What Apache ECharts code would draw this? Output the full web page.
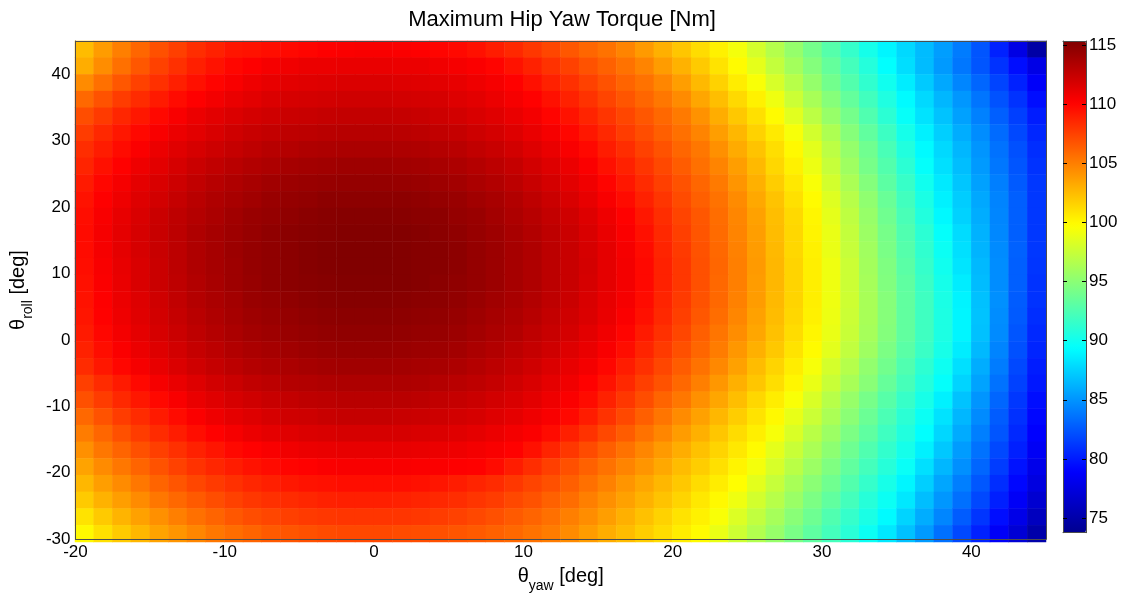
<!DOCTYPE html>
<html><head><meta charset="utf-8">
<script src="https://cdn.jsdelivr.net/npm/echarts@6/dist/echarts.min.js"></script>
<style>html,body{margin:0;padding:0;background:#fff}#c{width:1124px;height:598px}</style>
</head><body><div id="c"></div>
<script>
// yaw cell centres (deg), left to right, 1.25-deg cells over -20..45
const yawCenters = [-19.375,-18.125,-16.875,-15.625,-14.375,-13.125,-11.875,-10.625,-9.375,-8.125,-6.875,-5.625,-4.375,-3.125,-1.875,-0.625,
  0.625,1.875,3.125,4.375,5.625,6.875,8.125,9.375,10.625,11.875,13.125,14.375,15.625,16.875,18.125,19.375,20.625,21.875,23.125,24.375,
  25.625,26.875,28.125,29.375,30.625,31.875,33.125,34.375,35.625,36.875,38.125,39.375,40.625,41.875,43.125,44.375];
// roll cell centres (deg), top to bottom, 2.5-deg cells over 45..-30
const rollCenters = [43.75,41.25,38.75,36.25,33.75,31.25,28.75,26.25,23.75,21.25,18.75,16.25,13.75,11.25,8.75,6.25,3.75,1.25,-1.25,-3.75,-6.25,-8.75,-11.25,-13.75,-16.25,-18.75,-21.25,-23.75,-26.25,-28.75];
// maximum hip yaw torque [Nm], one row per roll centre (top to bottom), one value per yaw centre
const torque = [
[102.5,103.8,105.0,106.0,106.9,107.6,108.3,108.8,109.3,109.4,109.6,109.8,110.0,110.2,110.3,110.4,110.4,110.3,110.2,110.0,109.8,109.5,109.0,108.5,107.9,107.3,106.6,106.0,105.5,104.8,103.9,103.0,102.1,101.2,100.3,99.3,98.0,96.7,95.4,94.1,92.8,91.5,90.2,89.0,87.8,86.6,85.4,84.0,82.4,80.3,77.7,74.8],
[103.1,104.4,105.6,106.6,107.5,108.2,108.9,109.4,109.9,110.2,110.5,110.7,110.9,110.9,111.0,111.0,111.0,110.9,110.9,110.7,110.5,110.3,110.0,109.4,108.8,108.1,107.5,106.8,106.2,105.5,104.8,103.8,102.9,101.9,100.9,99.9,98.7,97.3,96.0,94.7,93.4,92.1,90.8,89.4,88.0,86.6,85.2,83.8,82.4,81.0,79.5,77.8],
[104.5,105.6,106.6,107.5,108.2,108.9,109.5,110.0,110.4,110.8,111.1,111.3,111.4,111.5,111.6,111.6,111.6,111.5,111.4,111.3,111.1,110.8,110.5,110.1,109.5,108.8,108.2,107.5,106.8,106.1,105.5,104.7,103.7,102.6,101.6,100.5,99.5,98.1,96.8,95.4,94.0,92.7,91.3,90.0,88.6,87.2,85.8,84.4,83.1,81.7,80.3,78.7],
[105.9,106.8,107.7,108.4,109.1,109.7,110.2,110.6,111.0,111.3,111.6,111.8,111.9,112.0,112.1,112.1,112.1,112.0,111.9,111.8,111.5,111.3,110.9,110.5,110.1,109.5,108.8,108.1,107.4,106.7,106.0,105.3,104.5,103.4,102.4,101.3,100.3,99.1,97.6,96.2,94.8,93.4,92.0,90.6,89.2,87.8,86.4,85.1,83.7,82.3,81.0,79.5],
[107.0,107.8,108.6,109.2,109.8,110.4,110.9,111.3,111.6,111.9,112.1,112.3,112.4,112.5,112.6,112.6,112.6,112.5,112.4,112.2,112.0,111.7,111.4,111.0,110.6,110.0,109.4,108.7,108.0,107.3,106.6,105.9,105.2,104.2,103.1,102.0,101.0,99.9,98.5,97.0,95.5,94.1,92.6,91.1,89.6,88.2,86.9,85.5,84.2,82.8,81.5,80.1],
[107.7,108.5,109.2,109.8,110.4,110.9,111.3,111.7,112.1,112.4,112.6,112.8,112.9,113.0,113.1,113.1,113.1,113.0,112.9,112.7,112.5,112.2,111.9,111.5,111.0,110.5,109.9,109.2,108.5,107.7,107.0,106.3,105.6,104.8,103.7,102.7,101.6,100.6,99.4,97.9,96.4,94.8,93.3,91.8,90.2,88.8,87.4,86.0,84.7,83.3,81.9,80.5],
[108.3,109.0,109.7,110.3,110.9,111.4,111.8,112.2,112.5,112.8,113.1,113.2,113.4,113.5,113.6,113.6,113.6,113.5,113.4,113.2,113.0,112.7,112.4,112.0,111.5,111.0,110.4,109.8,109.0,108.3,107.5,106.8,106.0,105.3,104.3,103.2,102.2,101.1,100.0,98.6,97.0,95.4,93.9,92.3,90.7,89.2,87.8,86.4,85.0,83.6,82.2,80.8],
[108.7,109.5,110.1,110.8,111.3,111.8,112.3,112.7,113.0,113.3,113.5,113.8,113.9,114.0,114.1,114.1,114.1,114.0,113.9,113.7,113.5,113.2,112.9,112.5,112.0,111.5,110.9,110.3,109.5,108.8,108.0,107.2,106.4,105.6,104.8,103.7,102.6,101.4,100.3,99.0,97.4,95.8,94.2,92.7,91.1,89.5,88.1,86.7,85.2,83.8,82.4,81.0],
[109.1,109.9,110.5,111.2,111.7,112.2,112.7,113.1,113.4,113.7,114.0,114.2,114.3,114.4,114.5,114.5,114.5,114.4,114.3,114.1,113.9,113.6,113.3,112.9,112.4,111.9,111.3,110.7,110.0,109.2,108.4,107.6,106.8,106.0,105.2,104.1,103.0,101.8,100.7,99.5,97.9,96.3,94.7,93.1,91.6,90.0,88.5,87.0,85.5,84.1,82.6,81.2],
[109.4,110.2,110.8,111.5,112.0,112.5,113.0,113.4,113.7,114.0,114.3,114.5,114.6,114.8,114.8,114.8,114.8,114.8,114.7,114.5,114.3,114.0,113.7,113.3,112.8,112.3,111.7,111.1,110.4,109.7,108.8,108.0,107.1,106.3,105.5,104.5,103.3,102.2,101.0,99.9,98.4,96.8,95.2,93.6,92.0,90.4,88.8,87.3,85.8,84.3,82.8,81.2],
[109.6,110.4,111.1,111.7,112.3,112.8,113.2,113.6,114.0,114.3,114.5,114.7,114.9,115.0,115.1,115.1,115.1,115.0,114.9,114.8,114.5,114.3,113.9,113.5,113.1,112.6,112.1,111.5,110.8,110.1,109.2,108.3,107.4,106.6,105.7,104.7,103.6,102.4,101.3,100.1,98.7,97.1,95.5,93.9,92.3,90.7,89.1,87.5,86.0,84.4,82.8,81.2],
[109.7,110.5,111.2,111.8,112.4,112.9,113.4,113.8,114.1,114.4,114.7,114.9,115.0,115.1,115.2,115.2,115.2,115.2,115.1,114.9,114.7,114.4,114.1,113.7,113.3,112.8,112.3,111.7,111.0,110.3,109.5,108.5,107.6,106.7,105.8,104.8,103.7,102.5,101.4,100.2,98.9,97.3,95.7,94.2,92.6,91.1,89.5,87.9,86.2,84.5,82.8,81.2],
[109.7,110.5,111.2,111.8,112.4,112.9,113.4,113.8,114.2,114.5,114.7,114.9,115.1,115.2,115.3,115.3,115.3,115.2,115.1,115.0,114.8,114.5,114.2,113.8,113.4,112.9,112.4,111.8,111.2,110.5,109.7,108.7,107.8,106.8,105.9,104.9,103.8,102.6,101.4,100.3,98.9,97.4,95.9,94.3,92.8,91.3,89.8,88.1,86.3,84.6,82.9,81.2],
[109.6,110.4,111.1,111.7,112.3,112.9,113.4,113.8,114.1,114.5,114.7,114.9,115.1,115.2,115.3,115.3,115.3,115.2,115.1,115.0,114.8,114.5,114.2,113.8,113.4,112.9,112.4,111.9,111.2,110.6,109.8,108.8,107.9,106.9,106.0,105.0,103.9,102.7,101.5,100.4,99.1,97.6,96.0,94.5,93.0,91.5,90.0,88.3,86.5,84.7,82.8,81.1],
[109.5,110.3,111.0,111.7,112.3,112.8,113.3,113.7,114.1,114.4,114.7,114.9,115.0,115.1,115.2,115.2,115.2,115.2,115.1,114.9,114.7,114.5,114.2,113.8,113.4,112.9,112.4,111.8,111.2,110.6,109.8,108.8,107.9,106.9,105.9,105.0,103.8,102.7,101.5,100.4,99.1,97.6,96.1,94.6,93.2,91.7,90.2,88.6,86.6,84.7,82.8,81.0],
[109.4,110.2,110.9,111.5,112.1,112.7,113.2,113.6,113.9,114.3,114.5,114.7,114.9,115.0,115.1,115.1,115.1,115.0,114.9,114.8,114.6,114.3,114.0,113.7,113.3,112.8,112.3,111.7,111.1,110.5,109.7,108.7,107.8,106.8,105.9,104.9,103.8,102.6,101.5,100.4,99.1,97.7,96.2,94.8,93.3,91.9,90.4,88.9,86.8,84.8,82.7,81.0],
[109.3,110.1,110.8,111.4,112.0,112.5,113.0,113.4,113.8,114.1,114.3,114.5,114.7,114.8,114.9,114.9,114.9,114.8,114.7,114.6,114.4,114.1,113.8,113.5,113.1,112.6,112.1,111.6,111.0,110.3,109.5,108.5,107.6,106.6,105.7,104.7,103.6,102.5,101.4,100.3,99.0,97.6,96.2,94.8,93.3,91.9,90.5,89.0,86.9,84.7,82.6,80.8],
[109.1,109.9,110.6,111.2,111.8,112.3,112.8,113.2,113.6,113.9,114.1,114.3,114.5,114.6,114.7,114.7,114.7,114.6,114.5,114.4,114.2,113.9,113.6,113.3,112.8,112.4,111.9,111.3,110.7,110.0,109.1,108.2,107.3,106.3,105.4,104.4,103.4,102.3,101.2,100.1,98.9,97.5,96.1,94.7,93.3,91.9,90.5,89.0,86.8,84.6,82.4,80.6],
[108.8,109.6,110.3,110.9,111.5,112.0,112.5,112.9,113.3,113.6,113.8,114.0,114.2,114.3,114.4,114.4,114.4,114.3,114.2,114.1,113.9,113.6,113.3,112.9,112.5,112.1,111.5,111.0,110.4,109.6,108.7,107.8,106.9,106.0,105.1,104.0,103.0,102.0,100.9,99.9,98.6,97.2,95.8,94.4,93.0,91.7,90.3,88.6,86.5,84.3,82.2,80.4],
[108.4,109.2,109.9,110.5,111.1,111.6,112.1,112.5,112.9,113.2,113.4,113.6,113.8,113.9,114.0,114.0,114.0,113.9,113.8,113.7,113.5,113.2,112.9,112.5,112.1,111.6,111.1,110.6,109.9,109.0,108.2,107.3,106.4,105.5,104.6,103.6,102.5,101.5,100.5,99.4,98.0,96.7,95.3,94.0,92.6,91.2,89.9,88.1,86.0,84.0,81.9,80.1],
[107.6,108.4,109.1,109.8,110.5,111.0,111.5,112.0,112.3,112.7,112.9,113.2,113.3,113.4,113.5,113.5,113.5,113.5,113.4,113.2,113.0,112.8,112.5,112.1,111.7,111.2,110.7,110.1,109.4,108.5,107.6,106.8,105.9,105.0,104.0,103.0,102.1,101.1,100.1,98.9,97.5,96.2,94.9,93.5,92.2,90.8,89.5,87.6,85.6,83.6,81.6,79.9],
[106.9,107.7,108.5,109.2,109.8,110.4,111.0,111.4,111.8,112.1,112.4,112.6,112.8,112.9,113.0,113.0,113.0,113.0,112.9,112.7,112.5,112.3,112.0,111.7,111.3,110.8,110.3,109.7,108.8,107.9,107.0,106.1,105.3,104.3,103.4,102.4,101.4,100.5,99.5,98.2,96.8,95.5,94.2,92.9,91.6,90.3,88.8,86.9,85.0,83.1,81.2,79.5],
[105.9,106.8,107.7,108.4,109.1,109.7,110.3,110.8,111.2,111.5,111.8,112.1,112.2,112.4,112.5,112.5,112.5,112.4,112.3,112.2,112.0,111.8,111.5,111.2,110.8,110.4,109.8,109.0,108.1,107.2,106.3,105.4,104.5,103.6,102.7,101.8,100.9,100.0,98.8,97.6,96.3,95.0,93.7,92.4,91.1,89.8,88.2,86.4,84.6,82.7,80.9,79.2],
[105.1,106.0,106.9,107.7,108.4,109.0,109.6,110.1,110.5,110.9,111.2,111.4,111.6,111.7,111.8,111.8,111.8,111.8,111.7,111.6,111.4,111.2,110.9,110.6,110.3,109.7,108.9,108.1,107.2,106.4,105.5,104.7,103.8,103.0,102.1,101.2,100.4,99.4,98.2,96.9,95.7,94.4,93.2,91.9,90.7,89.4,87.7,85.9,84.1,82.4,80.6,78.9],
[104.3,105.3,106.1,106.9,107.6,108.2,108.8,109.3,109.8,110.1,110.4,110.7,110.9,111.0,111.1,111.1,111.1,111.1,111.0,110.9,110.8,110.6,110.4,110.1,109.5,108.7,107.9,107.1,106.3,105.5,104.7,103.9,103.1,102.3,101.5,100.7,99.9,98.7,97.5,96.3,95.1,93.8,92.6,91.4,90.2,88.8,87.1,85.3,83.6,81.9,80.2,78.5],
[103.5,104.5,105.3,106.1,106.8,107.5,108.1,108.6,109.0,109.4,109.7,110.0,110.1,110.3,110.4,110.4,110.4,110.4,110.3,110.3,110.2,110.1,109.7,109.0,108.3,107.6,106.9,106.2,105.5,104.8,104.1,103.3,102.5,101.8,101.0,100.2,99.3,98.1,96.9,95.7,94.5,93.3,92.1,90.9,89.7,88.1,86.4,84.8,83.1,81.4,79.7,78.0],
[102.7,103.7,104.5,105.3,106.1,106.7,107.3,107.8,108.2,108.6,108.9,109.2,109.4,109.5,109.6,109.6,109.6,109.6,109.5,109.3,109.0,108.7,108.4,107.9,107.4,106.9,106.3,105.6,104.9,104.1,103.4,102.7,102.0,101.2,100.5,99.8,98.6,97.4,96.2,95.0,93.9,92.7,91.5,90.3,89.0,87.4,85.7,84.1,82.5,80.8,79.2,77.5],
[101.9,102.9,103.7,104.5,105.3,105.9,106.5,107.0,107.5,107.9,108.2,108.4,108.6,108.8,108.9,108.9,108.9,108.8,108.7,108.5,108.3,108.0,107.7,107.2,106.8,106.2,105.7,105.0,104.3,103.6,102.9,102.2,101.5,100.7,100.0,99.1,97.9,96.8,95.6,94.4,93.3,92.1,90.9,89.8,88.4,86.7,85.1,83.5,81.9,80.2,78.6,76.8],
[100.9,101.9,102.8,103.6,104.3,105.0,105.6,106.1,106.6,107.0,107.3,107.6,107.8,107.9,108.0,108.0,108.0,108.0,107.9,107.7,107.5,107.2,106.9,106.5,106.1,105.6,105.0,104.4,103.7,103.0,102.3,101.6,100.9,100.3,99.5,98.3,97.2,96.1,94.9,93.8,92.6,91.5,90.4,89.2,87.6,86.0,84.4,82.7,81.1,79.5,77.9,76.0],
[100.0,101.0,101.9,102.7,103.5,104.1,104.7,105.3,105.7,106.1,106.5,106.7,106.9,107.1,107.2,107.2,107.2,107.1,107.0,106.9,106.7,106.5,106.2,105.9,105.5,105.1,104.5,103.8,103.1,102.5,101.8,101.2,100.5,99.9,98.9,97.7,96.6,95.5,94.3,93.2,92.1,91.0,89.8,88.4,86.8,85.2,83.5,81.9,80.3,78.6,77.0,75.0]
];
const yawTicks = [-20,-10,0,10,20,30,40];
const rollTicks = [-30,-20,-10,0,10,20,30,40];
const cbTicks = [75,80,85,90,95,100,105,110,115];
const cbMin = 73.76, cbMax = 115.34;
const jet = ['#00008f','#0000ff','#0080ff','#00ffff','#80ff80','#ffff00','#ff8000','#ff0000','#800000'];

const FONT = '"Liberation Sans", Arial, Helvetica, sans-serif';
const heat = [];
torque.forEach((row, r) => row.forEach((v, c) => heat.push([c, r, v])));

const nameRich = {
  a: {fontFamily: FONT, fontSize: 20, color: '#000', verticalAlign: 'top', lineHeight: 24},
  b: {fontFamily: FONT, fontSize: 14, color: '#000', verticalAlign: 'top', lineHeight: 17, padding: [13, 0, 0, 0]}
};
const frameLine = {show: true, onZero: false, lineStyle: {color: '#4d4d4d', width: 1}};
const labelStyle = {color: '#000', fontFamily: FONT, fontSize: 17};
const hiddenBits = {axisTick: {show: false}, axisLabel: {show: false}, splitLine: {show: false}};

const chart = echarts.init(document.getElementById('c'));
chart.setOption({
  animation: false,
  backgroundColor: '#fff',
  title: {text: 'Maximum Hip Yaw Torque [Nm]', left: 'center', top: 4,
    textStyle: {fontFamily: FONT, fontSize: 22, fontWeight: 'normal', color: '#000'}},
  grid: [
    {left: 75, top: 41, width: 971, height: 501},
    {left: 75, top: 41, width: 971, height: 501},
    {left: 1063, top: 41, width: 23, height: 491.7}
  ],
  xAxis: [
    {gridIndex: 0, type: 'category', data: yawCenters, show: false},
    {gridIndex: 1, type: 'value', min: -20, max: 45, position: 'bottom', z: 10,
      axisLine: frameLine, axisTick: {show: false}, splitLine: {show: false},
      axisLabel: Object.assign({customValues: yawTicks, margin: 5}, labelStyle),
      name: '{a|θ}{b|yaw}{a| [deg]}', nameLocation: 'middle', nameGap: 23,
      nameTextStyle: {rich: nameRich}},
    Object.assign({gridIndex: 1, type: 'value', min: -20, max: 45, position: 'top', z: 10, axisLine: frameLine}, hiddenBits),
    Object.assign({gridIndex: 2, type: 'value', min: 0, max: 1, position: 'bottom', z: 20, axisLine: frameLine}, hiddenBits),
    Object.assign({gridIndex: 2, type: 'value', min: 0, max: 1, position: 'top', z: 20, axisLine: frameLine}, hiddenBits)
  ],
  yAxis: [
    {gridIndex: 0, type: 'category', data: rollCenters, inverse: true, show: false},
    {gridIndex: 1, type: 'value', min: -30, max: 45, position: 'left', z: 10,
      axisLine: frameLine, axisTick: {show: false}, splitLine: {show: false},
      axisLabel: Object.assign({customValues: rollTicks, margin: 5}, labelStyle),
      name: '{a|θ}{b|roll}{a| [deg]}', nameLocation: 'middle', nameGap: 40, nameRotate: 90,
      nameTextStyle: {rich: nameRich}},
    Object.assign({gridIndex: 1, type: 'value', min: -30, max: 45, position: 'right', z: 10, axisLine: frameLine}, hiddenBits),
    {gridIndex: 2, type: 'value', min: cbMin, max: cbMax, position: 'right', z: 20,
      axisLine: frameLine, splitLine: {show: false},
      axisTick: {show: true, inside: true, length: 4, customValues: cbTicks, lineStyle: {color: '#000'}},
      axisLabel: Object.assign({customValues: cbTicks, margin: 3}, labelStyle)},
    {gridIndex: 2, type: 'value', min: cbMin, max: cbMax, position: 'left', z: 20,
      axisLine: frameLine, splitLine: {show: false},
      axisTick: {show: true, inside: true, length: 4, customValues: cbTicks, lineStyle: {color: '#000'}},
      axisLabel: {show: false}}
  ],
  visualMap: {
    type: 'continuous', min: cbMin, max: cbMax, seriesIndex: 0, z: 2,
    inRange: {color: jet}, calculable: false, hoverLink: false,
    left: 1063, top: 41, itemWidth: 23, itemHeight: 491.7, padding: 0,
    text: null, showLabel: false
  },
  series: [{
    type: 'heatmap', xAxisIndex: 0, yAxisIndex: 0, data: heat,
    itemStyle: {borderWidth: 0}, emphasis: {disabled: true}, progressive: 0
  }]
});
</script></body></html>
